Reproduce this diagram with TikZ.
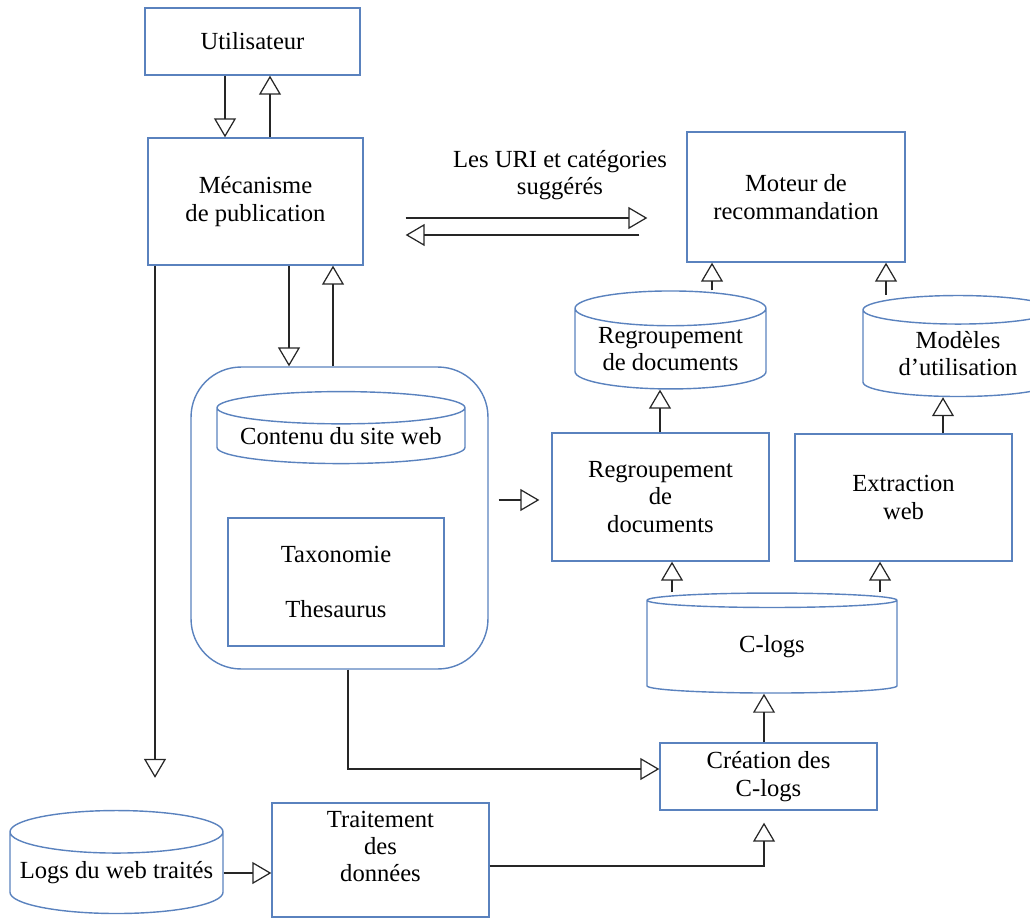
\documentclass[tikz,border=0pt]{standalone}
\usepackage{fontspec}
\setmainfont{Liberation Serif}
\usetikzlibrary{shapes.geometric,arrows.meta}
\definecolor{boxblue}{RGB}{90,130,190}
\begin{document}
\begin{tikzpicture}[x=0.02cm,y=-0.02cm,
  font=\fontsize{14}{15.5}\selectfont,
  box/.style={draw=boxblue,line width=0.8pt,align=center,inner sep=0pt},
  db/.style={box,cylinder,shape border rotate=90,aspect=#1},
  arr/.style={draw=black!85,line width=0.7pt,-{Triangle[open,length=0.38cm,width=0.44cm]}}]
\useasboundingbox (0,0) rectangle (1030,922);
\node[box,minimum width=4.3cm,minimum height=1.34cm] (user) at (252.5,41.5) {Utilisateur};
\node[box,minimum width=4.3cm,minimum height=2.54cm] (pub) at (255.5,201.5) {Mécanisme\\de publication};
\node[box,minimum width=4.36cm,minimum height=2.6cm] (reco) at (796,197) {Moteur de\\recommandation};
\node[align=center] (uri) at (560,175) {Les URI et catégories\\suggérés};
\node[box,rounded corners=1cm,minimum width=5.94cm,minimum height=6.04cm] (site) at (339.5,518) {};
\node[db=0.16,minimum width=4.96cm,minimum height=1.44cm] (content) at (341,436) {Contenu du site web};
\node[box,minimum width=4.32cm,minimum height=2.56cm] (taxo) at (336,582) {Taxonomie\\[0.56cm]Thesaurus};
\node[db=0.24,minimum width=3.82cm,minimum height=1.96cm] (docdb) at (670.5,349) {Regroupement\\de documents};
\node[db=0.24,minimum width=3.8cm,minimum height=2.02cm] (usage) at (958,353.5) {Modèles\\d’utilisation};
\node[box,minimum width=4.34cm,minimum height=2.56cm] (cluster) at (660.5,497) {Regroupement\\de\\documents};
\node[box,minimum width=4.34cm,minimum height=2.54cm] (mining) at (903.5,497.5) {Extraction\\web};
\node[db=0.22,minimum width=5cm,minimum height=2cm] (clogs) at (772,647) {C-logs};
\node[box,minimum width=4.34cm,minimum height=1.34cm] (create) at (768.5,776.5) {Création des\\C-logs};
\node[db=0.22,minimum width=4.26cm,minimum height=2.06cm] (weblogs) at (116.5,873) {Logs du web traités};
\node[box,minimum width=4.34cm,minimum height=2.28cm] (prep) at (380.5,860) {Traitement\\des\\données\\ };
\draw[arr] (user.south -| 225,0) -- (pub.north -| 225,0);
\draw[arr] (pub.north -| 270,0) -- (user.south -| 270,0);
\draw[arr] (pub.south -| 289,0) -- (site.north -| 289,0);
\draw[arr] (site.north -| 333,0) -- (pub.south -| 333,0);
\draw[arr,shorten >=0.64cm] (pub.south -| 155,0) -- (weblogs.north -| 155,0);
\draw[arr,shorten <=0.84cm,shorten >=0.78cm] (pub.east |- 0,218) -- (reco.west |- 0,218);
\draw[arr,shorten <=0.94cm,shorten >=0.84cm] (reco.west |- 0,235) -- (pub.east |- 0,235);
\draw[arr,shorten <=0.2cm,shorten >=0.24cm] (site.east |- 0,500) -- (cluster.west |- 0,500);
\draw[arr] (docdb.north -| 712,0) -- (reco.south -| 712,0);
\draw[arr] (usage.north -| 886,0) -- (reco.south -| 886,0);
\draw[arr] (cluster.north -| 660,0) -- (docdb.south -| 660,0);
\draw[arr] (mining.north -| 943,0) -- (usage.south -| 943,0);
\draw[arr] (clogs.north -| 672,0) -- (cluster.south -| 672,0);
\draw[arr] (clogs.north -| 880,0) -- (mining.south -| 880,0);
\draw[arr] (create.north -| 764,0) -- (clogs.south -| 764,0);
\draw[arr] (site.south -| 348,0) |- (create.west |- 0,769);
\draw[arr] (weblogs.east) -- (prep.west |- weblogs.east);
\draw[arr,shorten >=0.24cm] (prep.east |- 0,866) -| (create.south -| 764,0);
\end{tikzpicture}
\end{document}
